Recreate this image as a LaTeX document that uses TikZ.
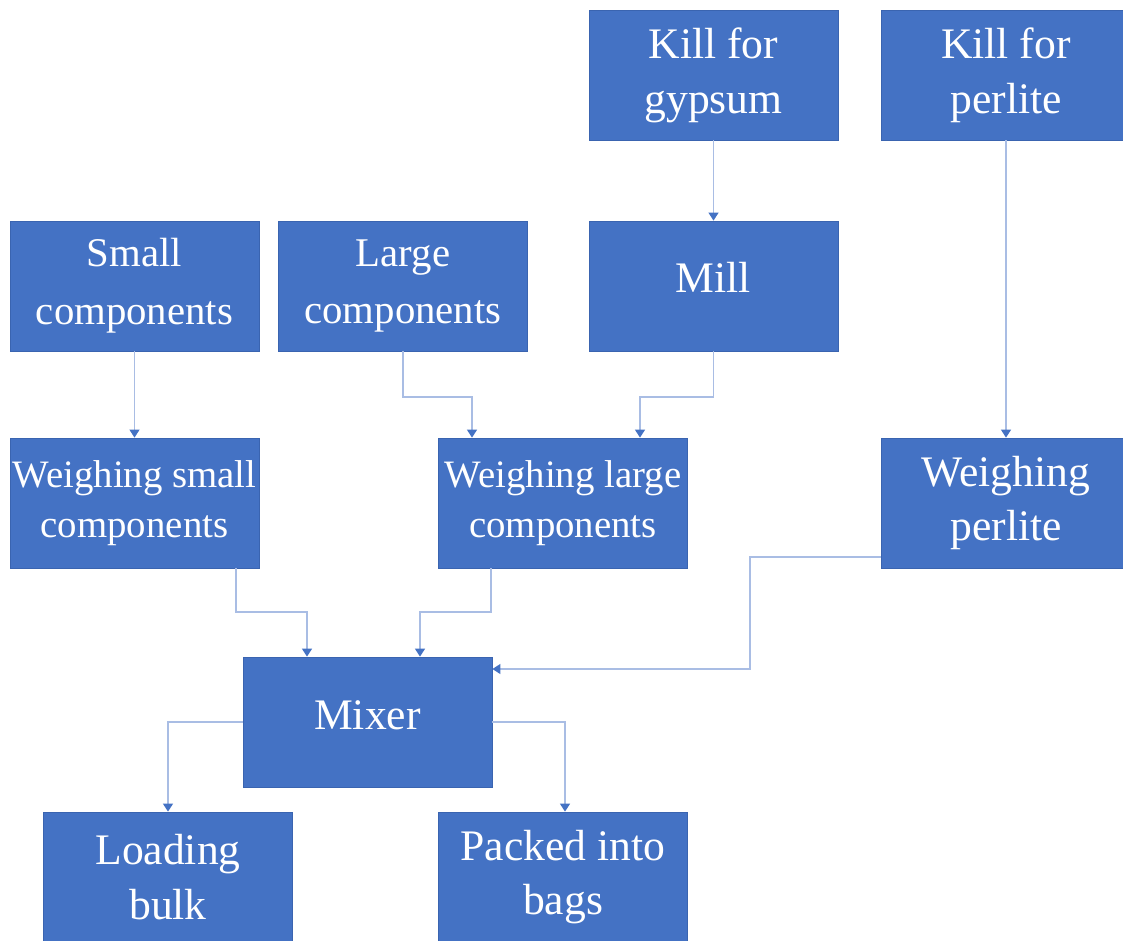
\documentclass[tikz,border=0pt]{standalone}
\usepackage{fontspec}
\setmainfont{Liberation Serif}
\usetikzlibrary{arrows.meta}
\definecolor{boxblue}{HTML}{4472C4}
\definecolor{boxedge}{HTML}{3A64B0}
\definecolor{linkblue}{HTML}{A9BDE4}

\begin{document}
\begin{tikzpicture}[
            x = 0.025cm, y = -0.025cm, % one unit per pixel, y going down
            box/.style = {shape=rectangle, fill=boxblue, draw=boxedge, text=white,
                inner sep=0pt, minimum width=6.225cm, minimum height=3.25cm,
                align=center, font=\fontsize{31}{39}\selectfont}, % blue process box
            comp/.style = {box, font=\fontsize{29}{41}\selectfont},
            weigh/.style = {box, font=\fontsize{27.6}{36}\selectfont},
            conn/.style = {draw=linkblue, line width=1.4pt,
                -{Triangle[width=0.24cm, length=0.2cm, color=boxblue]}} % thin link
        ]
\useasboundingbox (0,0) rectangle (1123,940);
\clip (0,0) rectangle (1123,940);

\node[box] (gyps) at (713.5,75) {Kill for\\gypsum};
\node[box] (perl) at (1006,75) {Kill for\\perlite};
\node[comp] (small) at (134.5,286) {Small\\components};
\node[comp] (large) at (403,286) {Large\\components};
\node[box, text depth=0.45cm] (mill) at (713.5,286) {Mill};
\node[weigh] (wsmall) at (134.5,503) {Weighing small\\components};
\node[weigh] (wlarge) at (563,503) {Weighing large\\components};
\node[box] (wperl) at (1006,503) {Weighing\\perlite};
\node[box, text depth=0.35cm] (mixer) at (367.5,722) {Mixer};
\node[box] (bulk) at (168,877) {Loading\\bulk};
\node[box] (bags) at (563,877) {Packed into\\bags};

% bend points
\coordinate (lA) at (472,397);
\coordinate (mA) at (640,397);
\coordinate (sA) at (236,612);
\coordinate (sB) at (307,612);
\coordinate (gA) at (491,612);
\coordinate (gB) at (420,612);
\coordinate (pA) at (750,557);
\coordinate (pB) at (750,669);
\coordinate (oA) at (168,722);
\coordinate (oB) at (565,722);

 \draw[conn] (gyps) -- (mill);
 \draw[conn] (perl) -- (wperl);
 \draw[conn] (small) -- (wsmall);
 \draw[conn] (large.south) |- (lA) -- (lA |- wlarge.north);
 \draw[conn] (mill.south) |- (mA) -- (mA |- wlarge.north);
 \draw[conn] (sA |- wsmall.south) -- (sA) -- (sB) -- (sB |- mixer.north);
 \draw[conn] (gA |- wlarge.south) -- (gA) -- (gB) -- (gB |- mixer.north);
 \draw[conn] (pA -| wperl.west) -- (pA) -- (pB) -- (pB -| mixer.east);
 \draw[conn] (mixer.west) -- (oA) -- (oA |- bulk.north);
 \draw[conn] (mixer.east) -- (oB) -- (oB |- bags.north);

\end{tikzpicture}
\end{document}
